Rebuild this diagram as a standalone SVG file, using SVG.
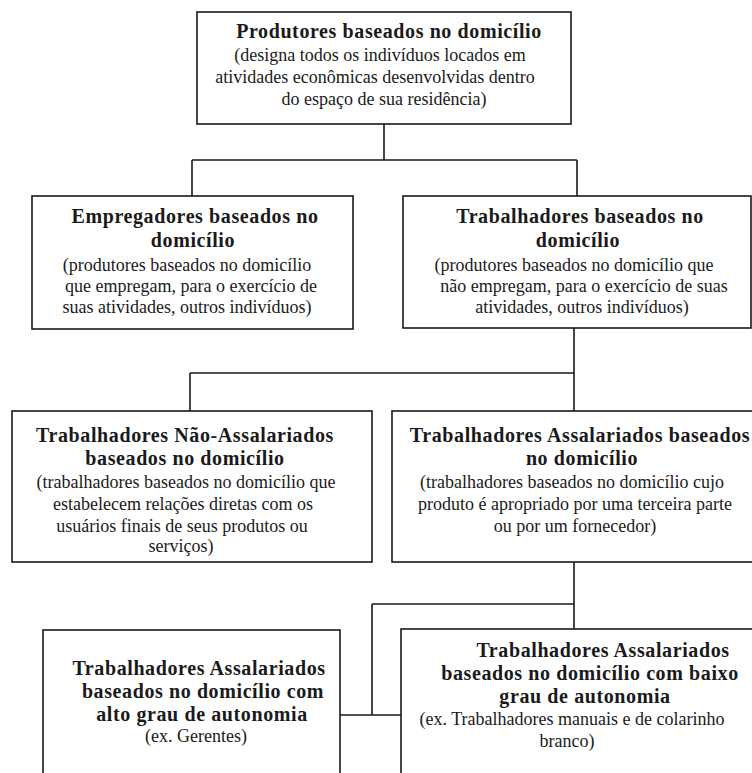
<svg xmlns="http://www.w3.org/2000/svg" width="752" height="773" viewBox="0 0 752 773">
<style>
.box{fill:#fff;stroke:#1a1a1a;stroke-width:1.6}
.c{fill:none;stroke:#1a1a1a;stroke-width:1.6}
text{font-family:"Liberation Serif","Times New Roman",serif;fill:#1a1a1a;text-anchor:middle}
.b{font-weight:bold;font-size:20px;letter-spacing:0.6px}
.r{font-size:18px}
</style>
<rect width="752" height="773" fill="#fff"/>
<g id="connectors">
<path class="c" d="M384,124V160M192,160H577M192,160V196M577,160V196"/>
<path class="c" d="M574,328V411M190,373H574M190,373V411"/>
<path class="c" d="M574,562V629M372,604H574M372,604V715M340,715H401"/>
</g>
<g id="produtores">
<rect class="box" x="197" y="12" width="374" height="112"/>
<text class="b" x="389" y="38">Produtores baseados no domicílio</text>
<text class="r" x="380" y="61">(designa todos os indivíduos locados em</text>
<text class="r" x="375" y="83">atividades econômicas desenvolvidas dentro</text>
<text class="r" x="384" y="105">do espaço de sua residência)</text>
</g>
<g id="empregadores">
<rect class="box" x="32" y="196" width="321" height="133"/>
<text class="b" x="195" y="223">Empregadores baseados no</text>
<text class="b" x="193" y="247">domicílio</text>
<text class="r" x="187" y="271">(produtores baseados no domicílio</text>
<text class="r" x="191" y="292">que empregam, para o exercício de</text>
<text class="r" x="187" y="313">suas atividades, outros indivíduos)</text>
</g>
<g id="trabalhadores">
<rect class="box" x="403" y="196" width="348" height="132"/>
<text class="b" x="580" y="223">Trabalhadores baseados no</text>
<text class="b" x="578" y="247">domicílio</text>
<text class="r" x="574" y="271">(produtores baseados no domicílio que</text>
<text class="r" x="584" y="292">não empregam, para o exercício de suas</text>
<text class="r" x="582" y="313">atividades, outros indivíduos)</text>
</g>
<g id="nao-assalariados">
<rect class="box" x="12" y="411" width="360" height="151"/>
<text class="b" x="185" y="442">Trabalhadores Não-Assalariados</text>
<text class="b" x="185" y="465">baseados no domicílio</text>
<text class="r" x="186" y="488">(trabalhadores baseados no domicílio que</text>
<text class="r" x="183" y="510">estabelecem relações diretas com os</text>
<text class="r" x="182" y="532">usuários finais de seus produtos ou</text>
<text class="r" x="181" y="552">serviços)</text>
</g>
<g id="assalariados">
<rect class="box" x="392" y="411" width="370" height="151"/>
<text class="b" x="580" y="442">Trabalhadores Assalariados baseados</text>
<text class="b" x="582" y="465">no domicílio</text>
<text class="r" x="572" y="488">(trabalhadores baseados no domicílio cujo</text>
<text class="r" x="575" y="510">produto é apropriado por uma terceira parte</text>
<text class="r" x="575" y="532">ou por um fornecedor)</text>
</g>
<g id="alto-grau">
<rect class="box" x="43" y="630" width="297" height="160"/>
<text class="b" x="199" y="675">Trabalhadores Assalariados</text>
<text class="b" x="203" y="698">baseados no domicílio com</text>
<text class="b" x="202" y="721">alto grau de autonomia</text>
<text class="r" x="196" y="742">(ex. Gerentes)</text>
</g>
<g id="baixo-grau">
<rect class="box" x="401" y="629" width="370" height="160"/>
<text class="b" x="603" y="657">Trabalhadores Assalariados</text>
<text class="b" x="590" y="680">baseados no domicílio com baixo</text>
<text class="b" x="585" y="703">grau de autonomia</text>
<text class="r" x="572" y="725">(ex. Trabalhadores manuais e de colarinho</text>
<text class="r" x="567" y="747">branco)</text>
</g>
</svg>
